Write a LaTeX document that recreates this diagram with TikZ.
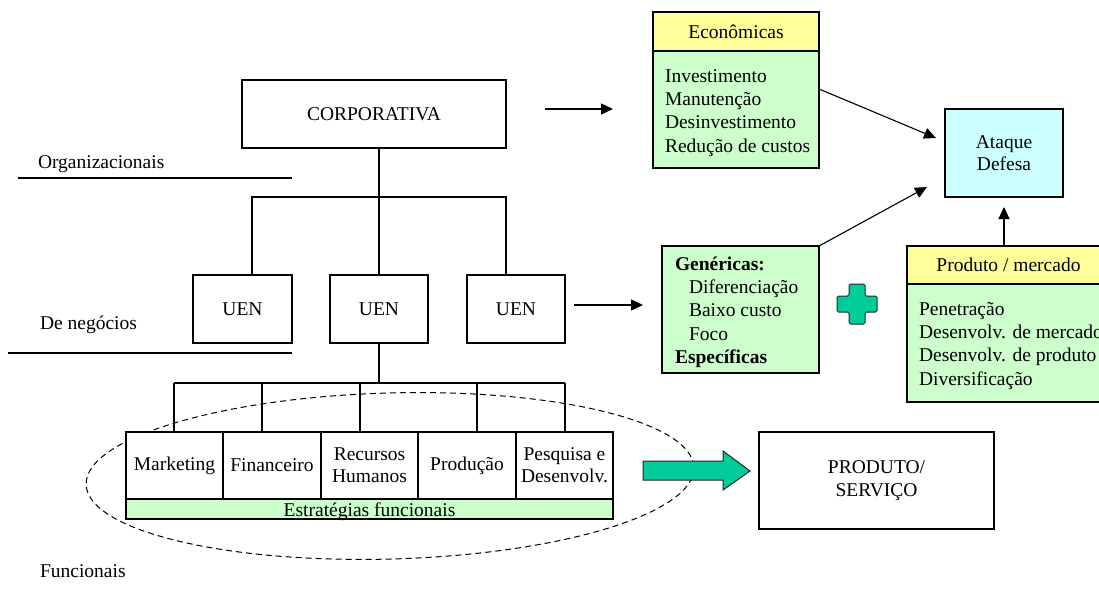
\documentclass[tikz,border=0pt]{standalone}
\usepackage{fontspec}
\setmainfont{Liberation Serif}
\usetikzlibrary{arrows.meta}
\definecolor{hdryellow}{HTML}{FFFF99}
\definecolor{boxgreen}{HTML}{CCFFCC}
\definecolor{boxcyan}{HTML}{CCFFFF}
\definecolor{blockteal}{HTML}{00CC99}
\begin{document}
\begin{tikzpicture}[x=1pt,y=-1pt,
  every node/.style={font=\fontsize{19.5}{23.4}\selectfont, inner sep=0pt, outer sep=0pt},
  frame/.style={draw=black, line width=1.1pt, fill=white},
  wh/.style 2 args={minimum width=#1, minimum height=#2, anchor=north west},
  link/.style={line width=1.1pt},
  arr/.style={line width=1.1pt, -{Triangle[length=12pt,width=11pt]}},
  linetext/.style={anchor=base west},
  rule/.style={line width=1.1pt}]
\useasboundingbox (0,0) rectangle (1099,592);
\clip (0,0) rectangle (1099,592);

% level labels and separators
\node[linetext] (lblorg) at (38,168) {Organizacionais};
\node[linetext] (lblneg) at (40,329) {De negócios};
\node[linetext] (lblfun) at (40,577) {Funcionais};
\draw[rule] (18,178) -- (292,178);
\draw[rule] (8,353) -- (292,353);

% corporate level
\node[frame, wh={264}{68}] (corp) at (242,80) {CORPORATIVA};

% business units
\node[frame, wh={99}{68}] (uenA) at (193,275) {UEN};
\node[frame, wh={98}{68}] (uenB) at (330,275) {UEN};
\node[frame, wh={98}{68}] (uenC) at (467,275) {UEN};

\coordinate (brL) at (252,197);
\coordinate (brR) at (506,197);
\draw[link] (corp.south -| uenB.north) -- (uenB.north);
\draw[link] (uenA.north -| brL) |- (brR) -- (uenC.north -| brR);

% dashed grouping of the functional areas
\draw[line width=1pt, dash pattern=on 6pt off 4pt, rotate around={1.6:(390,476)}]
  (390,476) ellipse [x radius=304, y radius=83];

% functional areas
\node[frame, wh={97}{67}] (fmkt)  at (126,432) {Marketing};
\node[frame, wh={98}{67}] (ffin)  at (223,432) {Financeiro};
\node[frame, wh={97}{67}, align=center] (frh) at (321,432) {Recursos\\[-1.5pt]Humanos};
\node[frame, wh={98}{67}] (fprod) at (418,432) {Produção};
\node[frame, wh={97}{67}, align=center] (fpd) at (516,432) {Pesquisa e\\[-1.5pt]Desenvolv.};
\node[frame, fill=boxgreen, wh={487}{20}] (fstrip) at (126,499) {};
\node[anchor=base] (fstriptxt) at (369.5,516) {Estratégias funcionais};

\coordinate (barL) at (174,383);
\coordinate (barR) at (565,383);
\draw[link] (uenB.south) -- (uenB.south |- barL);
\draw[link] (barL) -- (barR);
\foreach \x [count=\i] in {174,262,360,477,565}{
  \coordinate (drop\i) at (\x,383);
  \draw[link] (drop\i) -- (drop\i |- fmkt.north);
}

% product / service
\node[frame, wh={235}{97}, align=center] (prod) at (759,432) {PRODUTO/\\[-1pt]SERVIÇO};
\draw[line width=1pt, draw=black!85, fill=blockteal]
  (643,461) -- (723,461) -- (723,451) -- (750,471) -- (723,490) -- (723,480) -- (643,480) -- cycle;

% economic strategies
\node[frame, fill=hdryellow, wh={166}{39}] (econH) at (653,12) {Econômicas};
\node[frame, fill=boxgreen, wh={166}{117}] (econB) at (653,51) {};
\foreach \t [count=\i] in {Investimento, Manutenção, Desinvestimento, Redução de custos}
  \node[linetext] (econ\i) at (665,{82+23.4*(\i-1)}) {\t};

% attack / defence
\node[frame, fill=boxcyan, wh={118}{88}, align=center] (atq) at (945,109) {Ataque\\[-1pt]Defesa};

% generic strategies
\node[frame, fill=boxgreen, wh={157}{127}] (gen) at (662,246) {};
\node[linetext] (gen1) at (675,270) {\bfseries Genéricas:};
\node[linetext] (gen2) at (689,293.4) {Diferenciação};
\node[linetext] (gen3) at (689,316.8) {Baixo custo};
\node[linetext] (gen4) at (689,340.2) {Foco};
\node[linetext] (gen5) at (675,363.6) {\bfseries Específicas};

% plus sign
\draw[line width=1pt, draw=black!85, fill=blockteal, rounded corners=1.5pt]
  (849,284) -- (865,284) -- (865,296) -- (877,296) -- (877,312) -- (865,312) --
  (865,324) -- (849,324) -- (849,312) -- (837,312) -- (837,296) -- (849,296) -- cycle;

% product / market strategies
\node[frame, fill=hdryellow, wh={203}{38}] (pmH) at (907,246) {Produto / mercado};
\node[frame, fill=boxgreen, wh={203}{118}] (pmB) at (907,284) {};
\foreach \t [count=\i] in {Penetração, Desenvolv. de mercado, Desenvolv. de produto, Diversificação}
  \node[linetext] (pm\i) at (919,{315+23.4*(\i-1)}) {\t};

% connectors
\coordinate (a1s) at (545,109);
\coordinate (a1e) at (613,109);
\draw[arr] (a1s) -- (a1e);
\coordinate (a2s) at (819,89);
\coordinate (a2e) at (936,138);
\draw[arr] (a2s) -- (a2e);
\coordinate (a3e) at (927,187);
\draw[arr] (gen.north east) -- (a3e);
\coordinate (a4s) at (1004,246);
\coordinate (a4e) at (1004,207);
\draw[arr] (a4s) -- (a4e);
\coordinate (a5s) at (574,305);
\coordinate (a5e) at (643,305);
\draw[arr] (a5s) -- (a5e);
\end{tikzpicture}
\end{document}
